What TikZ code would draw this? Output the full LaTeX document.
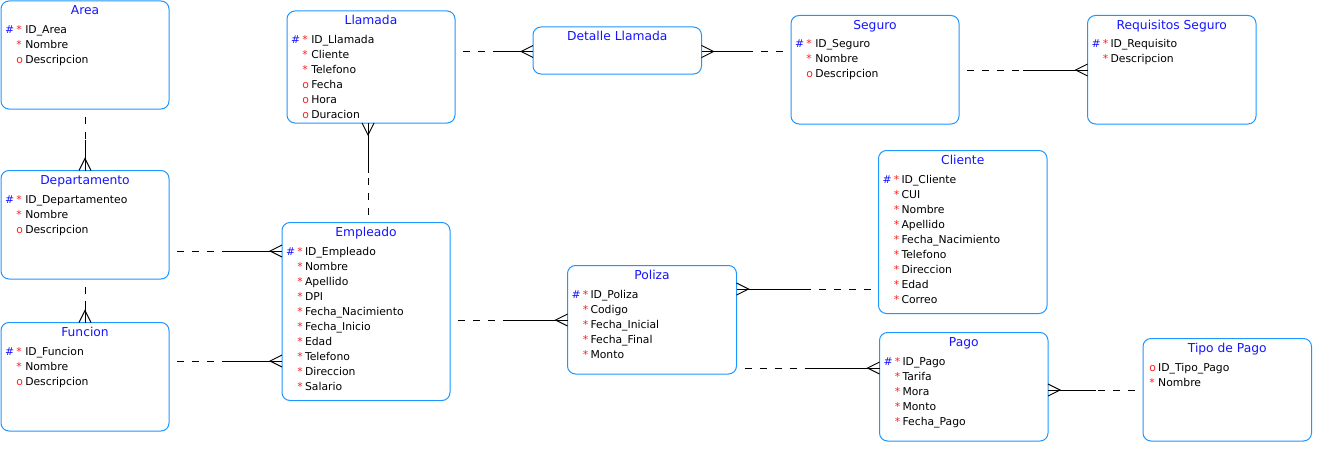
\documentclass[tikz,border=0pt]{standalone}
\usepackage{fontspec}
\setmainfont{DejaVu Sans}
\usetikzlibrary{calc}

\definecolor{boxblue}{RGB}{30,150,255}
\definecolor{titleblue}{RGB}{20,20,255}
\definecolor{markred}{RGB}{255,30,30}

\newcommand{\mkpk}{\textcolor{titleblue}{\#}}
\newcommand{\mkman}{\textcolor{markred}{*}}
\newcommand{\mkopt}{\textcolor{markred}{o}}

\tikzset{
  entity/.style={draw=boxblue, line width=1pt, rounded corners=8pt, anchor=north west, inner sep=0pt, outer sep=0pt},
  etitle/.style={anchor=base, text=titleblue, inner sep=0pt, font=\fontsize{12.3}{14}\selectfont},
  attrs/.style={anchor=base west, inner sep=0pt, font=\fontsize{10.8}{15}\selectfont},
  optline/.style={black, line width=0.9pt, dash pattern=on 7pt off 8pt, dash phase=7pt},
  manyline/.style={black, line width=0.9pt},
}

% box, title and attribute list of one entity
\newcommand{\entity}[7]{%
  \node[entity, minimum width=#4pt, minimum height=#5pt] (#1) at (#2,#3) {};
  \node[etitle] (#1-t) at ([yshift=-13.8pt]#1.north) {#6};
  \node[attrs] (#1-a) at ([xshift=4pt,yshift=-32.5pt]#1.north west)
    {\begin{tabular}[t]{@{}l@{\hspace{2.2pt}}l@{\hspace{2.2pt}}l@{}}#7\end{tabular}};
}

% relation: optional half dashed, many half solid with crow's foot at #2
\newcommand{\rel}[2]{%
  \draw[optline] #1 -- ($#1!0.5!#2$);
  \draw[manyline] ($#1!0.5!#2$) -- #2;
  \draw[manyline] ($#2!6pt!90:#1$) -- ($#2!12pt!#1$) -- ($#2!6pt!-90:#1$);
}

\begin{document}
\begin{tikzpicture}[x=1pt,y=-1pt]
\useasboundingbox (0,0) rectangle (1322,452);

%entities
\entity{area}{1}{1}{168}{108}{Area}{%
  \mkpk & \mkman & ID\_Area \\ & \mkman & Nombre \\ & \mkopt & Descripcion}
\entity{llam}{287}{11}{168}{112}{Llamada}{%
  \mkpk & \mkman & ID\_Llamada \\ & \mkman & Cliente \\ & \mkman & Telefono \\
  & \mkopt & Fecha \\ & \mkopt & Hora \\ & \mkopt & Duracion}
\node[entity, minimum width=168.5pt, minimum height=47pt] (det) at (533,27) {};
\node[etitle] (det-t) at ([yshift=-13.8pt]det.north) {Detalle Llamada};
\entity{seg}{791}{15.5}{168}{108.5}{Seguro}{%
  \mkpk & \mkman & ID\_Seguro \\ & \mkman & Nombre \\ & \mkopt & Descripcion}
\entity{req}{1087.5}{15.5}{168.5}{108.5}{Requisitos Seguro}{%
  \mkpk & \mkman & ID\_Requisito \\ & \mkman & Descripcion}
\entity{dep}{1}{170.5}{168}{108.5}{Departamento}{%
  \mkpk & \mkman & ID\_Departamenteo \\ & \mkman & Nombre \\ & \mkopt & Descripcion}
\entity{fun}{1}{322.5}{168}{108.5}{Funcion}{%
  \mkpk & \mkman & ID\_Funcion \\ & \mkman & Nombre \\ & \mkopt & Descripcion}
\entity{emp}{282}{222.5}{168}{178}{Empleado}{%
  \mkpk & \mkman & ID\_Empleado \\ & \mkman & Nombre \\ & \mkman & Apellido \\
  & \mkman & DPI \\ & \mkman & Fecha\_Nacimiento \\ & \mkman & Fecha\_Inicio \\
  & \mkman & Edad \\ & \mkman & Telefono \\ & \mkman & Direccion \\ & \mkman & Salario}
\entity{pol}{567.5}{265.5}{169}{108.5}{Poliza}{%
  \mkpk & \mkman & ID\_Poliza \\ & \mkman & Codigo \\ & \mkman & Fecha\_Inicial \\
  & \mkman & Fecha\_Final \\ & \mkman & Monto}
\entity{cli}{878.5}{150.5}{168.5}{163}{Cliente}{%
  \mkpk & \mkman & ID\_Cliente \\ & \mkman & CUI \\ & \mkman & Nombre \\
  & \mkman & Apellido \\ & \mkman & Fecha\_Nacimiento \\ & \mkman & Telefono \\
  & \mkman & Direccion \\ & \mkman & Edad \\ & \mkman & Correo}
\entity{pago}{879.5}{332.5}{168.5}{108.5}{Pago}{%
  \mkpk & \mkman & ID\_Pago \\ & \mkman & Tarifa \\ & \mkman & Mora \\
  & \mkman & Monto \\ & \mkman & Fecha\_Pago}
\entity{tipo}{1143}{338.5}{168.5}{102.5}{Tipo de Pago}{%
  & \mkopt & ID\_Tipo\_Pago \\ & \mkman & Nombre}

%relations
\rel{(area.south)}{(dep.north)}
\rel{(dep.south)}{(fun.north)}
\rel{(dep.east |- 0,251)}{(emp.west |- 0,251)}
\rel{(fun.east |- 0,361)}{(emp.west |- 0,361)}
\rel{(emp.north -| 368,0)}{(llam.south -| 368,0)}
\rel{(llam.east |- 0,51.5)}{(det.west |- 0,51.5)}
\rel{(seg.west |- 0,51.5)}{(det.east |- 0,51.5)}
\rel{(seg.east |- 0,70)}{(req.west |- 0,70)}
\rel{(emp.east |- 0,320)}{(pol.west |- 0,320)}
\rel{(cli.west |- 0,289)}{(pol.east |- 0,289)}
\rel{(pol.east |- 0,368)}{(pago.west |- 0,368)}
\rel{(tipo.west |- 0,390)}{(pago.east |- 0,390)}
\end{tikzpicture}
\end{document}
